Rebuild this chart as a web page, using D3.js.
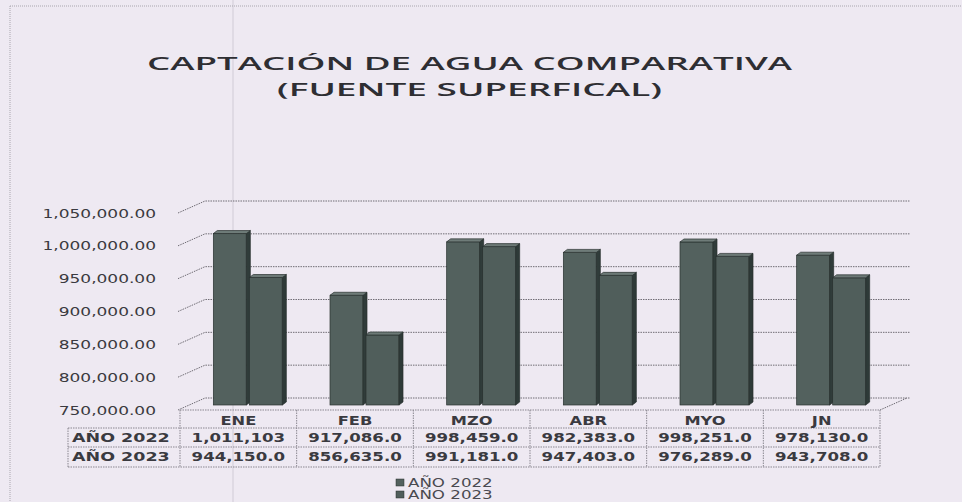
<!DOCTYPE html>
<html>
<head>
<meta charset="utf-8">
<script src="https://cdn.jsdelivr.net/npm/d3@7"></script>
<style>
  html, body { margin: 0; padding: 0; background: #eee9f2; }
  svg { display: block; }
</style>
</head>
<body>
<svg id="chart" width="962" height="502"></svg>
<script>
// ---------- data ----------
const categories = ["ENE", "FEB", "MZO", "ABR", "MYO", "JN"];
const seriesNames = ["AÑO 2022", "AÑO 2023"];
const values2022 = [1011103, 917086, 998459, 982383, 998251, 978130];
const values2023 = [944150, 856635, 991181, 947403, 976289, 943708];
const yTicks = [750000, 800000, 850000, 900000, 950000, 1000000, 1050000];
const titleLines = ["CAPTACIÓN DE AGUA COMPARATIVA", "(FUENTE SUPERFICAL)"];

// ---------- layout ----------
const W = 962, H = 502;
const svg = d3.select("#chart");
const bg = "#eee9f2";
svg.append("rect").attr("width", W).attr("height", H).attr("fill", bg);

const frontLeft = 180, frontRight = 880;
const depthX = 27, depthY = -12;          // back wall offset
const barDX = 11, barDY = -5;             // bars sit mid-depth
const y = d3.scaleLinear().domain([750000, 1050000]).range([410, 213]);
const x = d3.scaleBand().domain(categories).range([frontLeft, frontRight]).padding(0);

// faint scan crease + page frame
svg.append("line").attr("x1", 233).attr("x2", 233).attr("y1", 0).attr("y2", H)
  .attr("stroke", "#d6d1db").attr("stroke-width", 1.2);
svg.append("line").attr("x1", 10).attr("x2", W).attr("y1", 6).attr("y2", 6)
  .attr("stroke", "#a9a6ae").attr("stroke-dasharray", "1,1");
svg.append("line").attr("x1", 10).attr("x2", 10).attr("y1", 6).attr("y2", H)
  .attr("stroke", "#a9a6ae").attr("stroke-dasharray", "1,1");

// ---------- title ----------
const title = svg.append("g").attr("font-family", "'Open Sans', 'DejaVu Sans', sans-serif")
  .attr("fill", "#2e2e33").attr("font-size", 18).attr("font-weight", 600);
title.append("text").attr("x", 147).attr("y", 70).attr("textLength", 645)
  .attr("lengthAdjust", "spacingAndGlyphs").text(titleLines[0]);
title.append("text").attr("x", 277).attr("y", 96).attr("textLength", 385)
  .attr("lengthAdjust", "spacingAndGlyphs").text(titleLines[1]);

// ---------- gridlines (side wall + back wall) ----------
const grid = svg.append("g").attr("stroke", "#6f6c74").attr("stroke-width", 1)
  .attr("stroke-dasharray", "1.5,1").attr("fill", "none");
yTicks.forEach(v => {
  const yf = y(v), yb = y(v) + depthY;
  grid.append("polyline")
    .attr("points", `${frontLeft - 2},${yf} ${frontLeft - 2 + depthX},${yb} ${910},${yb}`);
});
// floor right edge
grid.append("line").attr("x1", frontRight).attr("y1", y(750000))
  .attr("x2", frontRight + depthX).attr("y2", y(750000) + depthY);

// ---------- y labels ----------
const fmtY = d3.format(",.2f");
const ylab = svg.append("g").attr("font-family", "'DejaVu Sans', sans-serif")
  .attr("font-size", 12.5).attr("fill", "#3a3a40").attr("text-anchor", "end");
yTicks.forEach(v => {
  ylab.append("text")
    .attr("transform", `translate(156,${y(v) + 4.5}) scale(1.36,1)`)
    .text(fmtY(v));
});

// ---------- bars ----------
const barW = 33, sideW = 4, sideH = 3, slot = 36;
const colors = [
  { front: "#53615e", side: "#303c3a", top: "#6f7c79" },
  { front: "#505e5b", side: "#2e3a38", top: "#6c7976" }
];
const bars = svg.append("g");
const series = [values2022, values2023];
categories.forEach((c, i) => {
  const gx = x(c) + (x.bandwidth() - 2 * slot) / 2 + barDX;
  series.forEach((vals, j) => {
    const bx = gx + j * slot;
    const yt = y(vals[i]) + barDY;
    const yb = y(750000) + barDY;
    const col = colors[j];
    const g = bars.append("g").attr("stroke", "#28312f").attr("stroke-width", 0.7);
    g.append("rect").attr("x", bx).attr("y", yt).attr("width", barW).attr("height", yb - yt)
      .attr("fill", col.front);
    g.append("polygon")
      .attr("points", `${bx + barW},${yt} ${bx + barW + sideW},${yt - sideH} ${bx + barW + sideW},${yb - sideH} ${bx + barW},${yb}`)
      .attr("fill", col.side);
    g.append("polygon")
      .attr("points", `${bx},${yt} ${bx + sideW},${yt - sideH} ${bx + barW + sideW},${yt - sideH} ${bx + barW},${yt}`)
      .attr("fill", col.top);
  });
});

// ---------- data table ----------
const fmtVal = v => v >= 1e6 ? d3.format(",")(v) : d3.format(",.1f")(v);
const table = svg.append("g");
const border = table.append("g").attr("stroke", "#8a8790").attr("stroke-width", 1)
  .attr("stroke-dasharray", "1.5,1").attr("fill", "none");
const rowY = [410, 428, 447, 467];
const labelLeft = 68;
border.append("line").attr("x1", frontLeft).attr("x2", frontRight).attr("y1", rowY[0]).attr("y2", rowY[0]);
[1, 2, 3].forEach(r => border.append("line").attr("x1", labelLeft).attr("x2", frontRight)
  .attr("y1", rowY[r]).attr("y2", rowY[r]));
border.append("line").attr("x1", labelLeft).attr("x2", labelLeft).attr("y1", rowY[1]).attr("y2", rowY[3]);
categories.forEach(c => border.append("line").attr("x1", x(c)).attr("x2", x(c))
  .attr("y1", rowY[0]).attr("y2", rowY[3]));
border.append("line").attr("x1", frontRight).attr("x2", frontRight).attr("y1", rowY[0]).attr("y2", rowY[3]);

const ttext = table.append("g").attr("font-family", "'DejaVu Sans', sans-serif")
  .attr("font-size", 12.5).attr("font-weight", "bold").attr("fill", "#3a3a40")
  .attr("text-anchor", "middle");
categories.forEach((c, i) => {
  const cx = x(c) + x.bandwidth() / 2;
  ttext.append("text").attr("transform", `translate(${cx},${rowY[1] - 3}) scale(1.3,1)`).text(c);
  ttext.append("text").attr("transform", `translate(${cx},${rowY[2] - 5}) scale(1.33,1)`).text(fmtVal(values2022[i]));
  ttext.append("text").attr("transform", `translate(${cx},${rowY[3] - 6}) scale(1.33,1)`).text(fmtVal(values2023[i]));
});
seriesNames.forEach((s, j) => {
  ttext.append("text").attr("text-anchor", "start")
    .attr("transform", `translate(72,${rowY[j + 2] - (j ? 6 : 5)}) scale(1.4,1)`).text(s);
});

// ---------- legend ----------
const legend = svg.append("g").attr("font-family", "'DejaVu Sans', sans-serif")
  .attr("font-size", 11.5).attr("fill", "#4a4a50");
seriesNames.forEach((s, j) => {
  const ly = 487 + j * 12;
  legend.append("rect").attr("x", 396).attr("y", ly - 8).attr("width", 8).attr("height", 7)
    .attr("fill", colors[j].front).attr("stroke", "#28312f").attr("stroke-width", 0.5);
  legend.append("text").attr("transform", `translate(408,${ly}) scale(1.45,1)`).text(s);
});
</script>
</body>
</html>
